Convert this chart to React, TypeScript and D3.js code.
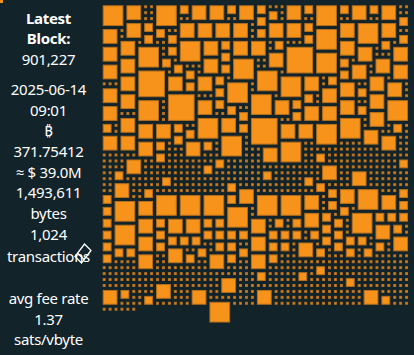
import React from "react";
import * as d3 from "d3";

// ---- Block info panel text ----
const infoLines = [
  "Latest",
  "Block:",
  "901,227",
  "2025-06-14",
  "09:01",
  "₿",
  "371.75412",
  "≈ $ 39.0M",
  "1,493,611",
  "bytes",
  "1,024",
  "transactions",
  "avg fee rate",
  "1.37",
  "sats/vbyte",
];
const boldLines = [0, 1];

// ---- Block grid ----
const GRID_COLS = 52;

// Transaction square sizes (grid units) in block order; "1x20" = twenty 1-unit txs.
const txTop = [
  "4 3 1 1 4 2 3 3 2 3 2 1 1 1 3 2 4 2 3 2 3 1 1",
  "1 1 2 1 1 1",
  "1 1 1 1 1 1 2 1 1 1 1 1 1 1 2",
  "3 2 3 3 3 3 1 3 3 2 3 4 3",
  "3 1 2 1 1 1 2 4 1 1",
  "1 2 2 1 2 2",
  "3 1 4 1 3 2 1 3 3 1 2 4 1 1 3 2",
  "1 5 3 1 1 2 3 1 3 4 1 2 1 3 1 1",
  "3 2 1 1 4 3 1 2 3 1 1 3 2 1 5 1",
  "1 3 2 3 1 4 1 1 2 3 3 1 1 2 1 3",
  "4 1 2 1 3 1 3 2 1 1 4 3 1 2 1 1",
  "3 1 1 3 2 5 1 3 1 2 1 4 1 3 1 1",
  "2 3 1 1 4 3 2 1 1 3 1 2 3 1 1 4",
  "1 3 1 2 3 1 1 3 2 4 1 1 3 1 2 1",
  "3 1 5 2 1 3 1 1 4 2 1 3 3 1 1 2",
  "1 3 2 1 3 4 1 1 2 3 1 1 3 2 1 3",
  "4 1 2 1 1 3 3 1 2 1 3 1 4 2 1 1",
];
const txMiddle = [
  "1x15 3 1x20 2 1x12 2 1x18 3 1x10 2 1x20 2 1x14 2 1x16 3 1x12 2 1x18 2",
  "1x10 3 1x15 2 1x20 2 1x12 3 1x14 2 1x10 2 1x16 2 1x12 3 1x10 2",
];
const txLower = [
  "3 4 1 1 1 4 4 4 4 4 2 2 3 1 2 4 3 1 1 4 3",
  "1 2 2 2 1 1 2 3 2 4 1 2 1 2 2 1 3 2 2 3 3 2 3",
  "2 1 2 4 1 2 2 1 2 3 2 1 2 2 2 2 1 2 2 2 1 2",
  "1 2 1 2 2 1 3 2 2 1 3 2 2 2 1 2 1 3 2 2 1 1 2 2",
  "1 1 2 2 1 3 1 2 1 2 2 1 2 3 1 1 2 2 1 2 1 1 2 1",
  "3 2 1 2 3 1 2 2 1 3 2 1",
];
const txBottom = [
  "1x71 2 1x40 2 1x5 2 1x35 3 1x14 2 1x18 3 1x35 3 2",
  "1x7 3 1x5 3 1x15 3 1x7 2 1x25 2 1x11",
  "4 1x30 1",
];

function parseBand(rows: string[]): number[] {
  const out: number[] = [];
  rows.forEach((row) =>
    row
      .trim()
      .split(/\s+/)
      .forEach((tok) => {
        const m = tok.match(/^(\d+)x(\d+)$/);
        if (m) for (let i = 0; i < +m[2]; i++) out.push(+m[1]);
        else out.push(+tok);
      })
  );
  return out;
}

const txSizes = [
  ...parseBand(txTop),
  ...parseBand(txMiddle),
  ...parseBand(txLower),
  ...parseBand(txBottom),
];

type Placed = { c: number; r: number; s: number };

function packFirstFit(sizes: number[], cols: number): Placed[] {
  const grid: boolean[][] = [];
  const row = (r: number) => {
    while (grid.length <= r) grid.push(new Array(cols).fill(false));
    return grid[r];
  };
  const fits = (r: number, c: number, s: number) => {
    if (c + s > cols) return false;
    for (let i = 0; i < s; i++) {
      const rr = row(r + i);
      for (let j = 0; j < s; j++) if (rr[c + j]) return false;
    }
    return true;
  };
  const placed: Placed[] = [];
  let first = 0;
  for (const s of sizes) {
    while (row(first).every((v) => v)) first++;
    let done = false;
    for (let r = first; !done; r++) {
      for (let c = 0; c + s <= cols; c++) {
        if (fits(r, c, s)) {
          for (let i = 0; i < s; i++) for (let j = 0; j < s; j++) row(r + i)[c + j] = true;
          placed.push({ c, r, s });
          done = true;
          break;
        }
      }
    }
  }
  return placed;
}

const BG = "#12232a";
const ORANGE = "#f7931a";

export default function App() {
  const W = 414;
  const H = 355;
  const pitch = 5.93;
  const x0 = 102.7;
  const y0 = 5.3;
  const gap = 3;

  const placed = packFirstFit(txSizes, GRID_COLS);
  const xScale = d3.scaleLinear().domain([0, GRID_COLS]).range([x0, x0 + GRID_COLS * pitch]);
  const yScale = d3.scaleLinear().domain([0, GRID_COLS]).range([y0, y0 + GRID_COLS * pitch]);

  const lineY = [23.5, 43.5, 64.5, 95, 115.5, 136, 156.5, 177.5, 198, 218.5, 240, 262, 303.5, 324.5, 344.5];
  const textX = 48.5;

  return (
    <svg
      width={W}
      height={H}
      style={{ position: "fixed", left: 0, top: 0, display: "block" }}
    >
      <rect x={0} y={0} width={W} height={H} fill={BG} />
      <rect x={0} y={0} width={3} height={3} fill={ORANGE} />
      <g>
        {placed.map((p, i) => {
          const x = xScale(p.c);
          const y = yScale(p.r);
          const w = xScale(p.c + p.s) - x - gap;
          return (
            <rect
              key={i}
              x={x + 0.5}
              y={y + 0.5}
              width={w - 1}
              height={w - 1}
              fill={ORANGE}
              stroke="#b4701e"
              strokeWidth={1}
            />
          );
        })}
      </g>
      <g
        fontFamily="'Noto Sans', 'Open Sans', sans-serif"
        fontSize={15}
        letterSpacing={-0.3}
        fill="#ffffff"
        textAnchor="middle"
      >
        {infoLines.map((t, i) => (
          <text key={i} x={textX} y={lineY[i]} fontWeight={boldLines.includes(i) ? 700 : 400}>
            {t}
          </text>
        ))}
      </g>
      <path
        d="M84.5,244 L91,250.5 L81.5,263 L75,256.5 Z M77.5,253 L84,259.5"
        fill="none"
        stroke="#ffffff"
        strokeWidth={1.3}
      />
    </svg>
  );
}
